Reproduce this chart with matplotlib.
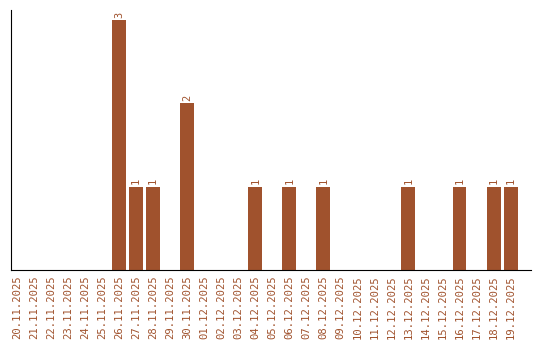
import matplotlib
matplotlib.use("Agg")
import matplotlib.pyplot as plt
import numpy as np

dates = ["20.11.2025", "21.11.2025", "22.11.2025", "23.11.2025", "24.11.2025",
         "25.11.2025", "26.11.2025", "27.11.2025", "28.11.2025", "29.11.2025",
         "30.11.2025", "01.12.2025", "02.12.2025", "03.12.2025", "04.12.2025",
         "05.12.2025", "06.12.2025", "07.12.2025", "08.12.2025", "09.12.2025",
         "10.12.2025", "11.12.2025", "12.12.2025", "13.12.2025", "14.12.2025",
         "15.12.2025", "16.12.2025", "17.12.2025", "18.12.2025", "19.12.2025"]
counts = [0, 0, 0, 0, 0,
          0, 3, 1, 1, 0,
          2, 0, 0, 0, 1,
          0, 1, 0, 1, 0,
          0, 0, 0, 1, 0,
          0, 1, 0, 1, 1]

COLOR = "#A0522D"

fig = plt.figure(figsize=(5.4, 3.4), dpi=100)
ax = fig.add_axes([11 / 540, 70 / 340, 520 / 540, 260 / 340])

x = np.arange(len(dates))
ax.bar(x, counts, width=0.82, color=COLOR)

for xi, c in zip(x, counts):
    if c > 0:
        ax.text(xi, c + 0.03, str(c), rotation=90, ha="center", va="bottom",
                fontsize=7.5, color=COLOR, family="DejaVu Sans Mono")

ax.set_xlim(-0.35, 30.2)
ax.set_ylim(0, 3.12)
ax.set_xticks(x)
ax.set_xticklabels(dates, rotation=90, fontsize=7.6, color=COLOR,
                   family="DejaVu Sans Mono")
ax.set_yticks([])
ax.tick_params(axis="x", length=0, pad=4)
ax.spines["top"].set_visible(False)
ax.spines["right"].set_visible(False)

fig.savefig("out.png", dpi=100)
